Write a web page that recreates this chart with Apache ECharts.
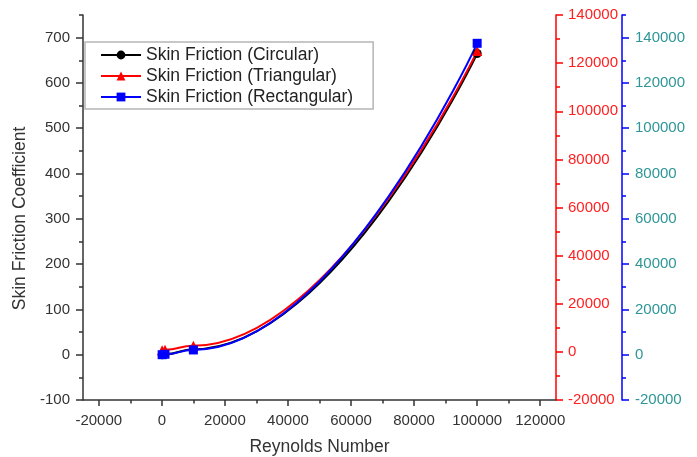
<!DOCTYPE html>
<html>
<head>
<meta charset="utf-8">
<script src="https://cdn.jsdelivr.net/npm/echarts@6/dist/echarts.min.js"></script>
<style>html,body{margin:0;padding:0;background:#fff;}#chart{width:697px;height:457px;}</style>
</head>
<body>
<div id="chart"></div>
<script>
// ---- data ----
const reynolds = [100, 1000, 10000, 100000];
const circular = [0, 1, 12, 665];
const triangular = [700, 900, 2500, 125000];
const rectangular = [0, 200, 2100, 137500];
const seriesNames = ['Skin Friction (Circular)', 'Skin Friction (Triangular)', 'Skin Friction (Rectangular)'];

// ---- tick labels ----
const xMajor = [-20000, 0, 20000, 40000, 60000, 80000, 100000, 120000];
const xMinor = [-10000, 10000, 30000, 50000, 70000, 90000, 110000];
const yLeftMajor = [-100, 0, 100, 200, 300, 400, 500, 600, 700];
const yLeftMinor = [-50, 50, 150, 250, 350, 450, 550, 650, 750];
const yRedMajor = [-20000, 0, 20000, 40000, 60000, 80000, 100000, 120000, 140000];
const yRedMinor = [-10000, 10000, 30000, 50000, 70000, 90000, 110000, 130000];
const yBlueMajor = [-20000, 0, 20000, 40000, 60000, 80000, 100000, 120000, 140000];
const yBlueMinor = [-10000, 10000, 30000, 50000, 70000, 90000, 110000, 130000, 150000];

const FONT = 'Liberation Sans, Arial, sans-serif';
const pair = (xs, ys) => xs.map((x, i) => [x, ys[i]]);
const plain = v => String(v);

const chart = echarts.init(document.getElementById('chart'), null, {renderer: 'canvas'});

function mainAxis(opts) {
  return Object.assign({
    type: 'value',
    splitLine: {show: false},
    axisLine: {show: true, onZero: false, lineStyle: {color: '#333', width: 1.5}},
    nameTextStyle: {color: '#333', fontSize: 17.5, fontFamily: FONT}
  }, opts);
}
function minorAxis(opts) {
  return Object.assign({
    type: 'value',
    splitLine: {show: false},
    axisLine: {show: false, onZero: false},
    axisLabel: {show: false},
  }, opts);
}

chart.setOption({
  animation: false,
  backgroundColor: '#fff',
  grid: {left: 83, right: 141, top: 15, bottom: 57, containLabel: false, outerBoundsMode: 'none'},
  legend: {
    orient: 'vertical',
    left: 85, top: 42,
    padding: [4, 20, 3, 15],
    itemWidth: 40, itemHeight: 11, itemGap: 3,
    borderColor: '#b5b5b5', borderWidth: 1.5,
    backgroundColor: '#fff',
    textStyle: {fontSize: 17.5, fontFamily: FONT, color: '#222'},
    data: seriesNames
  },
  xAxis: [
    mainAxis({
      min: -25000, max: 125000,
      name: 'Reynolds Number', nameLocation: 'middle', nameGap: 38,
      axisTick: {show: true, length: 6, customValues: xMajor, lineStyle: {color: '#333', width: 1.5}},
      axisLabel: {color: '#333', fontSize: 15, fontFamily: FONT, margin: 13, customValues: xMajor, formatter: plain}
    }),
    minorAxis({
      min: -25000, max: 125000, position: 'bottom',
      axisTick: {show: true, length: 3.5, customValues: xMinor, lineStyle: {color: '#333', width: 1.5}}
    })
  ],
  yAxis: [
    mainAxis({
      min: -100, max: 750, position: 'left',
      name: 'Skin Friction Coefficient', nameLocation: 'middle', nameGap: 50,
      nameTextStyle: {color: '#333', fontSize: 17.5, fontFamily: FONT, padding: [0, 22, 0, 0]},
      axisTick: {show: true, length: 7, customValues: yLeftMajor, lineStyle: {color: '#333', width: 1.5}},
      axisLabel: {color: '#333', fontSize: 15, fontFamily: FONT, margin: 13, customValues: yLeftMajor, formatter: plain}
    }),
    minorAxis({
      min: -100, max: 750, position: 'left',
      axisTick: {show: true, length: 4, customValues: yLeftMinor, lineStyle: {color: '#333', width: 1.5}}
    }),
    mainAxis({
      min: -20000, max: 140000, position: 'right', offset: 0,
      axisLine: {show: true, onZero: false, lineStyle: {color: '#ff0000', width: 1.5}},
      axisTick: {show: true, length: 7, customValues: yRedMajor, lineStyle: {color: '#ff0000', width: 1.5}},
      axisLabel: {color: '#ff2020', fontSize: 15, fontFamily: FONT, margin: 12, customValues: yRedMajor, formatter: plain}
    }),
    minorAxis({
      min: -20000, max: 140000, position: 'right', offset: 0,
      axisTick: {show: true, length: 4, customValues: yRedMinor, lineStyle: {color: '#ff0000', width: 1.5}}
    }),
    mainAxis({
      min: -20000, max: 150000, position: 'right', offset: 66,
      axisLine: {show: true, onZero: false, lineStyle: {color: '#0000ff', width: 1.5}},
      axisTick: {show: true, length: 7, customValues: yBlueMajor, lineStyle: {color: '#0000ff', width: 1.5}},
      axisLabel: {color: '#2e9696', fontSize: 15, fontFamily: FONT, margin: 13, customValues: yBlueMajor, formatter: plain}
    }),
    minorAxis({
      min: -20000, max: 150000, position: 'right', offset: 66,
      axisTick: {show: true, length: 4, customValues: yBlueMinor, lineStyle: {color: '#0000ff', width: 1.5}}
    })
  ],
  series: [
    {
      name: seriesNames[0], type: 'line', xAxisIndex: 0, yAxisIndex: 0,
      data: pair(reynolds, circular),
      smooth: 0.5, smoothMonotone: 'x',
      symbol: 'circle', symbolSize: 9,
      lineStyle: {color: '#000', width: 2}, itemStyle: {color: '#000'}
    },
    {
      name: seriesNames[1], type: 'line', xAxisIndex: 0, yAxisIndex: 2,
      data: pair(reynolds, triangular),
      smooth: 0.5, smoothMonotone: 'x',
      symbol: 'triangle', symbolSize: 10,
      lineStyle: {color: '#ff0000', width: 2}, itemStyle: {color: '#ff0000'}
    },
    {
      name: seriesNames[2], type: 'line', xAxisIndex: 0, yAxisIndex: 4,
      data: pair(reynolds, rectangular),
      smooth: 0.5, smoothMonotone: 'x',
      symbol: 'rect', symbolSize: 9,
      lineStyle: {color: '#0000ff', width: 2}, itemStyle: {color: '#0000ff'}
    }
  ]
});
</script>
</body>
</html>
